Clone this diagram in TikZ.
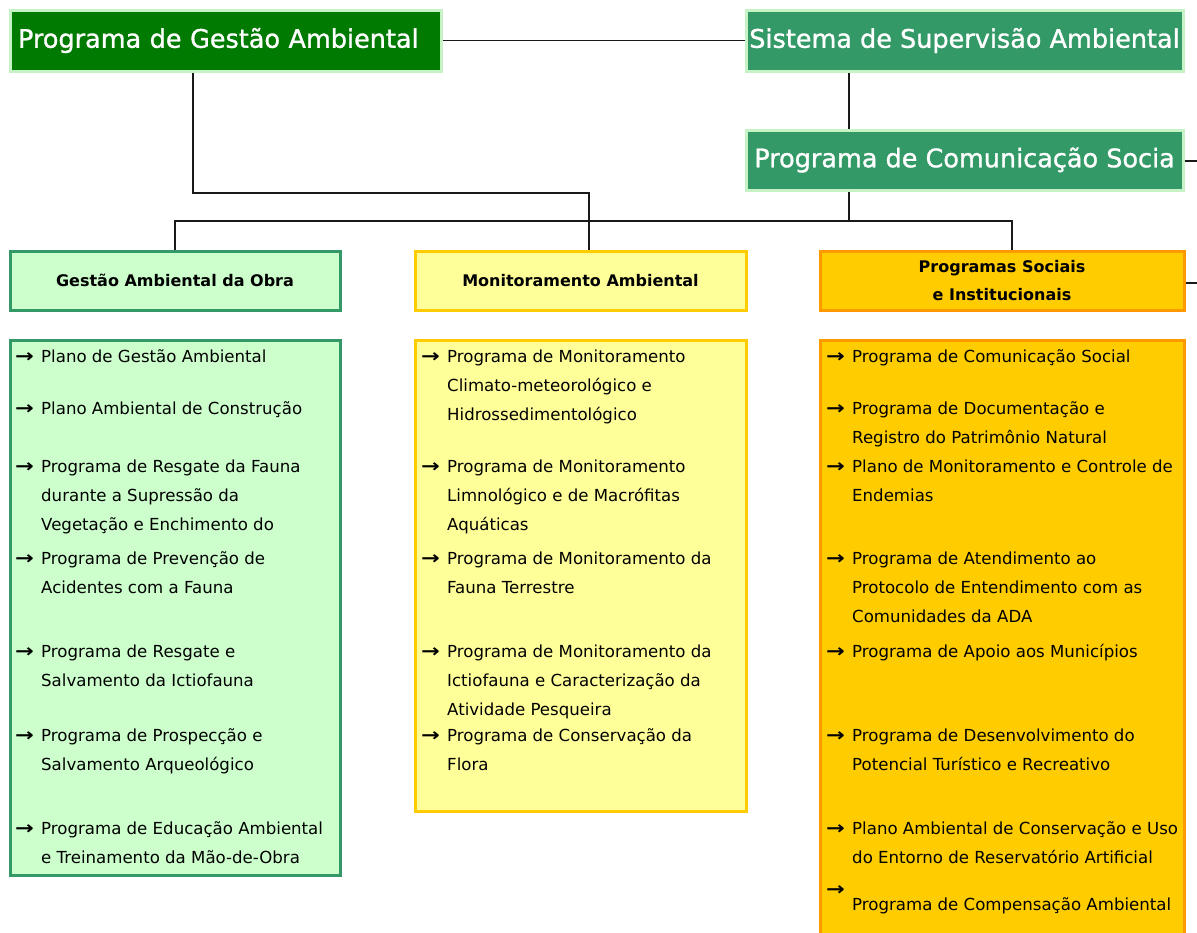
\documentclass[tikz,border=0pt]{standalone}
\usepackage{fontspec}
\usepackage{graphicx}
\setmainfont{DejaVu Sans}
\newfontfamily\titlefam[FakeBold=1.2]{DejaVu Sans}
\usetikzlibrary{positioning}
\definecolor{pgagreen}{HTML}{007A00}
\definecolor{ssagreen}{HTML}{339966}
\definecolor{glow}{HTML}{C6F2C6}
\definecolor{palegreen}{HTML}{CCFFCC}
\definecolor{paleyellow}{HTML}{FFFF99}
\definecolor{gold}{HTML}{FFCC00}
\definecolor{psiorange}{HTML}{FF9900}
\newcommand\titlefont{\titlefam\fontsize{25.5}{30}\selectfont}
\newcommand\boxfont{\bfseries\fontsize{16}{28}\selectfont}
\newcommand\entryfont{\fontsize{16.6}{29}\selectfont}
\newcommand\arr{\strut\llap{\makebox[26pt][l]{\scalebox{1.35}[1.1]{\bfseries →}}}}
\tikzset{
chart/.style={x=1pt,y=-1pt},
titlebox/.style={rectangle,draw=glow,line width=3pt,text=white,
font=\titlefont,minimum height=61pt,inner sep=0pt},
headbox/.style={rectangle,line width=3pt,font=\boxfont,align=center,
minimum height=59pt,inner sep=0pt},
listbox/.style={rectangle,line width=3pt,inner sep=0pt},
entry/.style={anchor=north west,align=left,font=\entryfont,inner sep=0pt},
link/.style={line width=1.5pt,draw=black!90},
}

\begin{document}
\begin{tikzpicture}[chart]
\useasboundingbox (0,0) rectangle (1197,932);
\clip (0,0) rectangle (1197,932);
% top row
\node[titlebox,fill=pgagreen,minimum width=431pt,text width=415pt,align=left] (pga) at (225.5,40.5) {Programa de Gestão Ambiental};
\node[titlebox,fill=ssagreen,minimum width=437pt] (ssa) at (964.5,40.5) {Sistema de Supervisão Ambiental};
\node[titlebox,fill=ssagreen,minimum width=437pt,minimum height=60pt] (pcs) at (964.5,160) {Programa de Comunicação Socia};

% column heads
\node[headbox,draw=ssagreen,fill=palegreen,minimum width=330pt] (gao) at (175,280.5) {Gestão Ambiental da Obra};
\node[headbox,draw=gold,fill=paleyellow,minimum width=331pt] (ma) at (580.5,280.5) {Monitoramento Ambiental};
\node[headbox,draw=psiorange,fill=gold,minimum width=364pt] (psi) at (1002,280.5) {Programas Sociais\\e Institucionais};

% column lists
\node[listbox,draw=ssagreen,fill=palegreen,minimum width=330pt,minimum height=535pt] (gaolist) at (175,607.5) {};
\node[listbox,draw=gold,fill=paleyellow,minimum width=331pt,minimum height=471pt] (malist) at (580.5,575.5) {};
\node[listbox,draw=psiorange,fill=gold,minimum width=364pt,minimum height=605pt] (psilist) at (1002,642.5) {};

% connectors
\coordinate (cx) at (849,221);
\coordinate (pgadrop) at (193,193);
\coordinate (mabend) at (589,193);
\coordinate (edge) at (1205,0);
\draw[link] (pga.east) -- (ssa.west);
\draw[link] (ssa.south -| cx) -- (pcs.north -| cx);
\draw[link] (pcs.south -| cx) -- (cx);
\draw[link] (gao.north) |- (cx) -| ([xshift=10pt]psi.north);
\draw[link] (pga.south -| pgadrop) -- (pgadrop) -- (mabend) -- (ma.north -| mabend);
\draw[link] ([yshift=-1pt]pcs.east) -- ([yshift=-1pt]pcs.east -| edge);
\draw[link] ([yshift=-2.5pt]psi.east) -- ([yshift=-2.5pt]psi.east -| edge);

% Gestao Ambiental da Obra
\node[entry] (g1) at (41,341.7) {\arr Plano de Gestão Ambiental};
\node[entry] (g2) at (41,393.7) {\arr Plano Ambiental de Construção};
\node[entry] (g3) at (41,451.7) {\arr Programa de Resgate da Fauna\\durante a Supressão da\\Vegetação e Enchimento do};
\node[entry] (g4) at (41,543.7) {\arr Programa de Prevenção de\\Acidentes com a Fauna};
\node[entry] (g5) at (41,636.7) {\arr Programa de Resgate e\\Salvamento da Ictiofauna};
\node[entry] (g6) at (41,720.7) {\arr Programa de Prospecção e\\Salvamento Arqueológico};
\node[entry] (g7) at (41,813.7) {\arr Programa de Educação Ambiental\\e Treinamento da Mão-de-Obra};

% Monitoramento Ambiental
\node[entry] (m1) at (447,341.7) {\arr Programa de Monitoramento\\Climato-meteorológico e\\Hidrossedimentológico};
\node[entry] (m2) at (447,451.7) {\arr Programa de Monitoramento\\Limnológico e de Macrófitas\\Aquáticas};
\node[entry] (m3) at (447,543.7) {\arr Programa de Monitoramento da\\Fauna Terrestre};
\node[entry] (m4) at (447,636.7) {\arr Programa de Monitoramento da\\Ictiofauna e Caracterização da\\Atividade Pesqueira};
\node[entry] (m5) at (447,720.7) {\arr Programa de Conservação da\\Flora};

% Programas Sociais e Institucionais
\node[entry] (p1) at (852,341.7) {\arr Programa de Comunicação Social};
\node[entry] (p2) at (852,393.7) {\arr Programa de Documentação e\\Registro do Patrimônio Natural};
\node[entry] (p3) at (852,451.7) {\arr Plano de Monitoramento e Controle de\\Endemias};
\node[entry] (p4) at (852,543.7) {\arr Programa de Atendimento ao\\Protocolo de Entendimento com as\\Comunidades da ADA};
\node[entry] (p5) at (852,636.7) {\arr Programa de Apoio aos Municípios};
\node[entry] (p6) at (852,720.7) {\arr Programa de Desenvolvimento do\\Potencial Turístico e Recreativo};
\node[entry] (p7) at (852,813.7) {\arr Plano Ambiental de Conservação e Uso\\do Entorno de Reservatório Artificial};
\node[entry] (p8) at (852,875.2) {\arr\\[-14pt]Programa de Compensação Ambiental};
\end{tikzpicture}
\end{document}
